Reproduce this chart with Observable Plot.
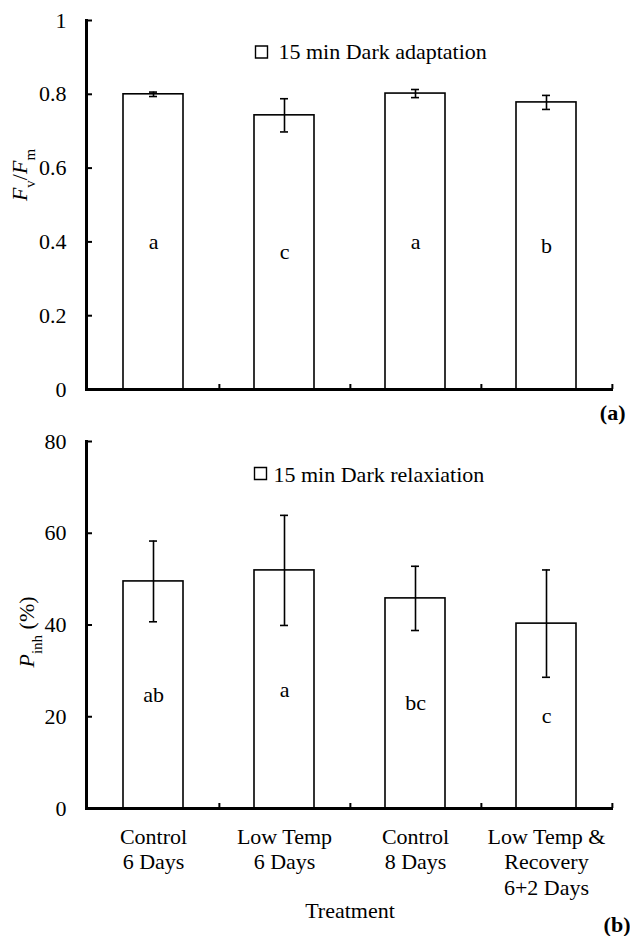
<!DOCTYPE html>
<html>
<head>
<meta charset="utf-8">
<script src="https://cdn.jsdelivr.net/npm/d3@7"></script>
<script src="https://cdn.jsdelivr.net/npm/@observablehq/plot@0.6"></script>
<style>
  html, body { margin: 0; padding: 0; background: white; }
  #wrap { position: relative; width: 630px; height: 936px; background: white; }
  #panelTop, #panelBottom { position: absolute; left: 0; }
  #panelTop { top: 0; }
  #panelBottom { top: 430px; }
  svg { overflow: visible; }
  svg, svg text, svg tspan { font-family: "Liberation Serif", Tinos, "Times New Roman", "DejaVu Serif", serif !important; }
</style>
</head>
<body>
<div id="wrap"><div id="panelTop"></div><div id="panelBottom"></div></div>
<script>
// ---- data ----
const categories = ["Control\n6 Days", "Low Temp\n6 Days", "Control\n8 Days", "Low Temp &\nRecovery\n6+2 Days"];
const fvfm = [0.800, 0.743, 0.802, 0.778];
const fvfmErr = [0.006, 0.045, 0.011, 0.019];
const fvfmLetters = ["a", "c", "a", "b"];
const pinh = [49.5, 51.9, 45.8, 40.3];
const pinhErr = [8.8, 12.0, 7.0, 11.7];
const pinhLetters = ["ab", "a", "bc", "c"];
const fvfmTicks = [0, 0.2, 0.4, 0.6, 0.8, 1];
const fvfmTickLabels = ["0", "0.2", "0.4", "0.6", "0.8", "1"];
const pinhTicks = [0, 20, 40, 60, 80];
const pinhTickLabels = ["0", "20", "40", "60", "80"];
const legendTop = ["15 min Dark adaptation"];
const legendBottom = ["15 min Dark relaxiation"];
const xTitle = ["Treatment"];
const panelLabels = ["(a)", "(b)"];

// ---- layout ----
const W = 630, mL = 86, mR = 17;
const step = (W - mL - mR) / categories.length;
const font = "Liberation Serif, Tinos, Times New Roman, DejaVu Serif, serif";
const style = {fontFamily: font, fontSize: "22px", background: "white", color: "black"};
const xOpts = {domain: categories, paddingInner: 0.545, paddingOuter: 0.2725};

function rows(vals, errs, letters) {
  return categories.map((c, i) => ({cat: c, v: vals[i], lo: vals[i] - errs[i], hi: vals[i] + errs[i], letter: letters[i]}));
}

function panel({data, height, mT, mB, domain, ticks, tickLabels, legend, legendDx, legendDy, textDx, textDy, panelLabel, plDx, plDy, withX}) {
  const marks = [
    Plot.barY(data, {x: "cat", y: "v", fill: "white", stroke: "black", strokeWidth: 1.6}),
    Plot.ruleX(data, {x: "cat", y1: "lo", y2: "hi", stroke: "black", strokeWidth: 1.6}),
    Plot.tickY(data, {x: "cat", y: "lo", stroke: "black", strokeWidth: 1.6, insetLeft: 26, insetRight: 26}),
    Plot.tickY(data, {x: "cat", y: "hi", stroke: "black", strokeWidth: 1.6, insetLeft: 26, insetRight: 26}),
    Plot.text(data, {x: "cat", y: d => d.v / 2, text: "letter", lineAnchor: "middle", fill: "black"}),
    Plot.ruleY([0], {stroke: "black", strokeWidth: 3}),
    Plot.frame({anchor: "left", stroke: "black", strokeWidth: 3}),
    Plot.axisY(ticks, {tickSize: -6, tickPadding: 26, strokeWidth: 2, label: null, tickFormat: (d, i) => tickLabels[i], fill: "black", stroke: "black"}),
    Plot.axisX({tickSize: -5, dx: step / 2, strokeWidth: 2, label: null, tickFormat: () => "", stroke: "black"}),
    Plot.dot(legend, {frameAnchor: "top-left", dx: legendDx, dy: legendDy, symbol: "square", r: 6.77, fill: "white", stroke: "black", strokeWidth: 1.4}),
    Plot.text(legend, {frameAnchor: "top-left", dx: textDx, dy: textDy, text: d => d, textAnchor: "start", lineAnchor: "bottom", fill: "black"}),
    Plot.text([panelLabel], {frameAnchor: "bottom-right", dx: plDx, dy: plDy, text: d => d, textAnchor: "end", lineAnchor: "bottom", fontWeight: "bold", fill: "black"})
  ];
  if (withX) {
    marks.push(Plot.text(categories, {x: d => d, text: d => d, frameAnchor: "bottom", lineAnchor: "top", lineHeight: 1.18, dy: 16.6, fill: "black"}));
    marks.push(Plot.text(xTitle, {frameAnchor: "bottom", text: d => d, lineAnchor: "bottom", dy: 109, fill: "black"}));
  }
  return Plot.plot({
    width: W, height, marginTop: mT, marginBottom: mB, marginLeft: mL, marginRight: mR,
    style,
    x: {...xOpts, axis: null, label: null},
    y: {domain, axis: null, label: null},
    marks
  });
}

const chartTop = panel({
  data: rows(fvfm, fvfmErr, fvfmLetters), height: 430, mT: 20, mB: 41,
  domain: [0, 1], ticks: fvfmTicks, tickLabels: fvfmTickLabels,
  legend: legendTop, legendDx: 175, legendDy: 31.5, textDx: 192, textDy: 38,
  panelLabel: panelLabels[0], plDx: 12, plDy: 30, withX: false
});
const chartBottom = panel({
  data: rows(pinh, pinhErr, pinhLetters), height: 506, mT: 11, mB: 128,
  domain: [0, 80], ticks: pinhTicks, tickLabels: pinhTickLabels,
  legend: legendBottom, legendDx: 174, legendDy: 32, textDx: 187, textDy: 40,
  panelLabel: panelLabels[1], plDx: 17, plDy: 123, withX: true
});
document.getElementById("panelTop").appendChild(chartTop);
document.getElementById("panelBottom").appendChild(chartBottom);

// rotated y-axis titles with italic and subscripts
function yTitle(svg, x, y, parts) {
  const t = d3.select(svg).append("text")
    .attr("transform", `translate(${x},${y}) rotate(-90)`)
    .attr("text-anchor", "middle")
    .attr("fill", "black")
    .style("font-size", "22px");
  parts.forEach(p => {
    const s = t.append("tspan").text(p.t);
    if (p.i) s.style("font-style", "italic");
    if (p.sub) s.attr("baseline-shift", "sub").style("font-size", "15px");
  });
}
yTitle(chartTop, 27, 175, [{t: "F", i: true}, {t: "v", sub: true}, {t: "/"}, {t: "F", i: true}, {t: "m", sub: true}]);
yTitle(chartBottom, 34, 202, [{t: "P", i: true}, {t: "inh", sub: true}, {t: " (%)"}]);
</script>
</body>
</html>
